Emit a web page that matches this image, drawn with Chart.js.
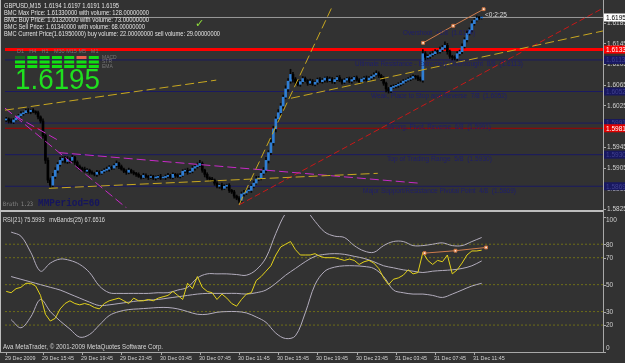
<!DOCTYPE html>
<html>
<head>
<meta charset="utf-8">
<script src="https://cdn.jsdelivr.net/npm/chart.js@4.4.0/dist/chart.umd.min.js"></script>
<style>
  body { margin: 0; background: #323232; width: 625px; height: 363px; overflow: hidden; position: relative; }
  canvas { position: absolute; left: 0; }
  #main { top: 0; z-index: 2; }
  #rsi { top: 210px; z-index: 1; }
</style>
</head>
<body>
<canvas id="rsi" width="625" height="153"></canvas>
<canvas id="main" width="625" height="215"></canvas>
<script>
// GBPUSD M15, 29 Dec 12:00 .. 31 Dec 12:30 (195 bars)
const closes = [
  1.5999,1.5995,1.5993,1.5997,1.6001,1.6005,1.6009,1.6011,1.6015,1.6013,1.6016,1.6013,1.6011,1.6003,1.5995,
  1.5967,1.5919,1.5881,1.5871,1.5888,1.5900,1.5911,1.5919,1.5923,1.5917,1.5921,1.5919,1.5925,1.5915,1.5907,
  1.5904,1.5902,1.5898,1.5900,1.5896,1.5894,1.5892,1.5896,1.5894,1.5898,1.5900,1.5902,1.5906,1.5904,1.5909,
  1.5913,1.5907,1.5902,1.5898,1.5896,1.5900,1.5896,1.5894,1.5892,1.5888,1.5886,1.5890,1.5888,1.5886,1.5888,
  1.5885,1.5886,1.5888,1.5885,1.5886,1.5888,1.5890,1.5886,1.5892,1.5890,1.5888,1.5890,1.5898,1.5900,1.5896,
  1.5898,1.5904,1.5907,1.5909,1.5913,1.5900,1.5892,1.5885,1.5883,1.5881,1.5875,1.5869,1.5871,1.5865,1.5869,
  1.5871,1.5861,1.5858,1.5850,1.5846,1.5842,1.5854,1.5856,1.5860,1.5861,1.5869,1.5875,1.5883,1.5885,1.5894,
  1.5900,1.5919,1.5934,1.5953,1.5980,1.5999,1.6011,1.6024,1.6041,1.6057,1.6072,1.6085,1.6076,1.6070,1.6066,
  1.6071,1.6077,1.6073,1.6068,1.6072,1.6066,1.6070,1.6075,1.6071,1.6074,1.6078,1.6073,1.6076,1.6071,1.6075,
  1.6079,1.6074,1.6070,1.6074,1.6077,1.6072,1.6075,1.6079,1.6074,1.6071,1.6076,1.6078,1.6074,1.6078,1.6081,
  1.6084,1.6087,1.6083,1.6078,1.6068,1.6057,1.6053,1.6060,1.6062,1.6064,1.6066,1.6068,1.6072,1.6074,1.6076,
  1.6078,1.6081,1.6080,1.6076,1.6074,1.6125,1.6118,1.6120,1.6123,1.6125,1.6129,1.6129,1.6133,1.6137,1.6141,
  1.6129,1.6120,1.6118,1.6116,1.6125,1.6129,1.6139,1.6152,1.6164,1.6171,1.6183,1.6190,1.6194,1.6194,1.6195
];
const firstOpen = 1.5997;
// wick lengths in pips
const wickUp = [
  3,2,4,3,2,3,4,2,3,4,2,3,2,3,2, 4,3,5,4,6,5,4,6,3,4,5,3,4,2,3, 3,2,4,3,2,3,2,4,3,2,3,4,3,2,3,
  5,2,3,2,3,4,2,3,2,3,2,4,3,2,3, 2,3,2,4,2,3,4,2,3,2,3,4,3,2,4, 3,4,3,5,6,3,2,3,2,3,2,3,2,4,3,
  2,3,2,3,2,3,4,5,3,4,3,4,5,3,4, 5,6,4,6,5,4,6,5,4,6,5,10,4,3,4, 3,4,3,2,4,3,2,3,4,3,2,3,4,3,2,
  3,4,2,3,2,3,4,2,3,3,2,3,4,3,3, 4,5,3,2,3,2,3,4,3,2,3,4,3,2,3, 4,3,2,3,4,8,4,3,4,5,4,3,5,4,7,
  4,3,2,3,4,3,5,4,5,4,5,3,4,3,2
];
const wickDn = [
  3,4,2,3,2,4,2,3,2,3,4,2,3,4,4, 5,6,5,4,3,4,5,3,4,3,4,5,3,4,3, 4,3,2,3,4,2,3,4,3,2,3,2,4,3,2,
  3,4,2,3,4,3,2,3,4,2,3,2,3,4,2, 3,4,2,3,2,4,3,2,3,4,2,3,2,3,4, 2,3,4,3,2,4,5,3,4,3,4,3,4,3,2,
  3,4,3,4,3,5,3,4,3,2,4,3,2,3,4, 3,4,5,4,5,6,4,5,4,3,5,4,6,5,3, 4,3,2,4,3,2,3,4,2,3,4,3,2,3,4,
  2,3,4,3,2,3,4,3,2,3,4,3,2,3,4, 3,2,4,5,4,6,4,3,2,3,4,3,2,3,2, 3,2,4,3,2,4,5,3,4,3,2,4,3,4,3,
  5,4,5,3,4,3,4,3,4,3,4,3,2,3,2
];

const priceTicks = [1.6185, 1.6145, 1.6105, 1.6065, 1.6025, 1.5985, 1.5945, 1.5905, 1.5865, 1.5825];
const mmLevels = [1.6113, 1.6052, 1.5991, 1.5930, 1.5869];
const mmNames = [
  'Ultimate Resistance - Extremely Overbought  8/8  (1.6113)',
  'Weak, Place to Stop and Reverse  7/8  (1.6052)',
  'Strong, Pivot, Reverse  6/8  (1.5991)',
  'Top of Trading Range  5/8  (1.5930)',
  'Major Support/Resistance Pivotal Point  4/8  (1.5869)'
];
const overshootLevel = 1.6174;
const overshootName = 'Overshoot  +1/8  (1.6174)';
const bidPrice = 1.6195;
const bmcMax = 1.6133;
const lowRed = 1.5981;

// trend lines: [bar1, price1, bar2, price2]
const yellowLines = [[-0.5, 1.6016, 85.7, 1.6074], [95, 1.5833, 133.3, 1.6219], [17.4, 1.5865, 151.6, 1.5894], [116.2, 1.6039, 243.5, 1.6169]];
const magentaLines = [[-0.5, 1.6020, 49.1, 1.5827], [3.6, 1.6005, 21.5, 1.5957], [21.5, 1.5934, 168.3, 1.5875]];
const redLines = [[95, 1.5833, 243.5, 1.6213]];
const divBars = [170.1, 182.4, 194.8];
const divPrices = [1.6146, 1.6179, 1.6211];

const infoLines = [
  'GBPUSD,M15  1.6194 1.6197 1.6191 1.6195',
  'BMC Max Price: 1.61330000 with volume: 128.00000000',
  'BMC Buy Price: 1.61320000 with volume: 73.00000000',
  'BMC Sell Price: 1.61340000 with volume: 68.00000000',
  'BMC Current Price(1.61950000) buy volume: 22.00000000 sell volume: 29.00000000'
];
const tfNames = ['D1', 'H4', 'H1', 'M30', 'M15', 'M5', 'M1'];
const sigNames = ['MACD', 'STR', 'EMA'];
const sigRows = [
  ['dark', 'up', 'up', 'up', 'up', 'down', 'up'],
  ['up', 'up', 'up', 'up', 'up', 'up', 'up'],
  ['up', 'up', 'up', 'up', 'up', 'up', 'up']
];

// RSI(21) every 2 bars, bands every 4 bars (from bar 2)
const rsi = [45,44,47,48,51,51,49,42,28,23,25,32,36,38,36,35,36,35,33,32,36,38,39,40,38,36,40,38,38,39,38,40,41,42,45,42,39,51,47,56,48,45,44,39,43,40,36,34,39,43,44,53,56,60,64,72,78,80,82,76,72,72,72,73,71,70,70,70,69,68,69,68,65,67,68,66,62,55,50,54,55,57,61,58,59,74,68,65,68,67,72,58,61,66,72,75,75,75.6];
const bandUp = [89,86,74,60,66,69,68,65,59,49,44,43.5,43.5,43.5,43.5,44,44,46,48,55,58,58,58,57.5,57,61,70,88,103,110,106,97,89,86,85,79,75,74,79,82,82,79,79,80,81,79,79,82,85];
const bandMid = [56,54,52,50,48,46,43,40,37,34.5,35,36,37,38,38.5,39,40,41,42,43,43.5,43.5,43.5,43.5,43,44,46,51,57,62,67,71,72.5,73,72.5,71,69.5,67,64,62.5,61,60,59,60,60.5,61,62,64,67.6];
const bandLow = [24,18,26,39,30,23,17,11,13,20,27,30,31.5,32,32.5,33,33,32,30,28,28,29.5,30,30,29,26,22,14,10,12,29,50,60,63,64,64,63.5,62,56,46,44,43,43,42,40.5,43,46,49,51];
const rsiLevels = [80, 70, 50, 30, 20];
const rsiTicks = [100, 80, 70, 50, 30, 20, 0];
const rsiDivBars = [170.7, 183.3, 195.8];
const rsiDivValues = [73.4, 75.2, 77.6];

const timeLabels = ['29 Dec 2009', '29 Dec 15:45', '29 Dec 19:45', '29 Dec 23:45', '30 Dec 03:45', '30 Dec 07:45', '30 Dec 11:45', '30 Dec 15:45', '30 Dec 19:45', '30 Dec 23:45', '31 Dec 03:45', '31 Dec 07:45', '31 Dec 11:45'];
const timeBars = [0, 15, 31, 47, 63, 79, 95, 111, 127, 143, 159, 175, 191];

const pip = 0.0001;
const X0 = -0.5, X1 = 243.5;
const opens = closes.map((c, i) => i ? closes[i - 1] : firstOpen);
const highs = closes.map((c, i) => Math.max(opens[i], c) + wickUp[i] * pip);
const lows = closes.map((c, i) => Math.min(opens[i], c) - wickDn[i] * pip);
const isUp = i => closes[i] > opens[i];

const FONT = '"Liberation Sans", Arial, sans-serif';
function txt(c, s, x, y, size, color, o = {}) {
  c.save();
  c.font = (o.weight || '') + ' ' + size + 'px ' + (o.family || FONT);
  c.fillStyle = color;
  c.textBaseline = 'middle';
  c.textAlign = 'left';
  const w = c.measureText(s).width;
  const sx = o.w ? o.w / w : (o.sx || 1);
  c.translate(x, y);
  c.scale(sx, 1);
  c.fillText(s, 0, 0);
  c.restore();
}

function hline(v, color, width, order, dash) {
  return { type: 'line', data: [{ x: X0, y: v }, { x: X1, y: v }], borderColor: color, borderWidth: width,
    borderDash: dash || [], pointRadius: 0, order };
}
function seg(s, color, dash, order) {
  return { type: 'line', data: [{ x: s[0], y: s[1] }, { x: s[2], y: s[3] }], borderColor: color, borderWidth: 1,
    borderDash: dash, pointRadius: 0, order };
}

const axisBox = (c, v, y, fill, fg) => {
  c.fillStyle = fill;
  c.fillRect(604, y - 4, 21, 8);
  txt(c, v.toFixed(4), 606, y + 0.5, 6.5, fg);
};

const mainDecor = {
  id: 'mainDecor',
  afterDatasetsDraw(chart) {
    const c = chart.ctx, ys = chart.scales.y;
    const py = v => ys.getPixelForValue(v);

    // murrey math labels
    const mmX = [355, 371, 387, 387, 363];
    const mmW = [168, 136, 104, 105, 153];
    txt(c, overshootName, 403, py(overshootLevel) + 5, 6.5, '#1e1e6c', { w: 72 });
    mmLevels.forEach((v, k) => txt(c, mmNames[k], mmX[k], py(v) + 4.5, 6.5, '#1e1e6c', { w: mmW[k] }));

    // info text
    const infoW = [115, 145, 145, 141, 216];
    const infoY = [6, 12.8, 19.8, 26.8, 34];
    infoLines.forEach((s, k) => txt(c, s, 4, infoY[k], 6.8, '#e2e2e2', { w: infoW[k] }));
    txt(c, '\u2713', 195, 24, 11, '#8fe03a', { family: '"DejaVu Sans", sans-serif' });

    // signal grid
    tfNames.forEach((s, k) => txt(c, s, 17 + k * 12.3, 51, 5.5, '#767676'));
    sigRows.forEach((row, r) => row.forEach((st, k) => {
      c.fillStyle = st === 'dark' ? '#17701a' : st === 'down' ? '#e8604c' : '#12e012';
      c.fillRect(15 + k * 12.3, 56 + r * 4.5, 10, 3);
    }));
    sigNames.forEach((s, k) => txt(c, s, 102, 57.5 + k * 4.5, 5, '#767676'));
    txt(c, closes[closes.length - 1].toFixed(4), 15, 81, 29, '#1fe01f', { w: 85 });

    txt(c, 'Brath 1.23', 3, 204, 6, '#8a8a8a', { w: 30, family: '"DejaVu Sans Mono", monospace' });
    txt(c, 'MMPeriod=60', 38, 203, 11, '#15155e', { w: 62, weight: 'bold', family: '"Liberation Mono", monospace' });
    txt(c, '<0:2:25', 485, 15.5, 6.5, '#dcdcdc', { w: 22 });

    // frame
    c.fillStyle = '#bdbdbd';
    c.fillRect(0, 0, 1, 352);
    c.fillRect(0, 210, 603, 2);
    c.fillStyle = '#a8a8a8';
    c.fillRect(603, 0, 1, 352);

    // price axis
    priceTicks.forEach(v => {
      const y = py(v);
      c.fillStyle = '#a8a8a8';
      c.fillRect(603, Math.round(y), 3, 1);
      txt(c, v.toFixed(4), 607, y + 0.5, 6.5, '#d0d0d0');
    });
    mmLevels.forEach(v => axisBox(c, v, py(v), '#181860', '#40408e'));
    axisBox(c, lowRed, py(lowRed), '#e00000', '#ffffff');
    axisBox(c, bmcMax, py(bmcMax), '#ff0000', '#ffffff');
    axisBox(c, bidPrice, py(bidPrice), '#ffffff', '#000000');
  }
};

new Chart(document.getElementById('main'), {
  type: 'bar',
  data: {
    datasets: [
      ...mmLevels.map(v => hline(v, '#1a1a62', 1, 20)),
      hline(lowRed, '#a00000', 1, 20),
      hline(bidPrice, '#9a9a9a', 1, 20),
      hline(bmcMax, '#ff0000', 3, 19),
      {
        type: 'bar', order: 10, grouped: false, barThickness: 1, borderWidth: 0,
        data: closes.map((c, i) => ({ x: i, y: [lows[i], highs[i]] })),
        backgroundColor: '#050505'
      },
      {
        type: 'bar', order: 9, grouped: false, barThickness: 2, borderWidth: 0, minBarLength: 1,
        data: closes.map((c, i) => ({ x: i, y: [opens[i], c] })),
        backgroundColor: ctx => isUp(ctx.dataIndex) ? '#2f7fd6' : '#000000'
      },
      ...yellowLines.map(s => seg(s, '#c9a820', [9, 4], 3)),
      ...magentaLines.map(s => seg(s, '#c82ac8', [9, 4], 3)),
      ...redLines.map(s => seg(s, '#c81818', [6, 3], 3)),
      {
        type: 'line', order: 1, data: divBars.map((b, k) => ({ x: b, y: divPrices[k] })),
        borderColor: '#cf7c4c', borderWidth: 1, pointStyle: 'rect', pointRadius: 2,
        pointBackgroundColor: '#fbe6d4', pointBorderColor: '#d0703a', pointBorderWidth: 1
      }
    ]
  },
  options: {
    responsive: false, animation: false, devicePixelRatio: 1,
    layout: { padding: { left: 3, top: 3, right: 0, bottom: 7 } },
    plugins: { legend: { display: false }, tooltip: { enabled: false } },
    scales: {
      x: { type: 'linear', min: X0, max: X1, offset: false, display: false },
      y: {
        position: 'right', min: 1.58270, max: 1.62191,
        grid: { display: false }, border: { display: false }, ticks: { display: false },
        afterFit(s) { s.width = 22; }
      }
    }
  },
  plugins: [mainDecor]
});

const rsiDecor = {
  id: 'rsiDecor',
  afterDatasetsDraw(chart) {
    const c = chart.ctx, ys = chart.scales.y, xs = chart.scales.x, a = chart.chartArea;
    txt(c, 'RSI(21) 75.5993   mvBands(25) 67.6516', 3, 10, 6.5, '#d8d8d8', { w: 102 });
    txt(c, 'Ava MetaTrader, \u00a9 2001-2009 MetaQuotes Software Corp.', 3, 137, 6.5, '#d8d8d8', { w: 160 });

    c.fillStyle = '#a8a8a8';
    c.fillRect(603, 0, 1, a.bottom + 1);
    c.fillRect(0, a.bottom, 604, 1);
    c.fillStyle = '#bdbdbd';
    c.fillRect(0, 0, 1, a.bottom);

    rsiTicks.forEach(v => {
      const y = Math.min(Math.max(ys.getPixelForValue(v), a.top + 5), a.bottom - 4);
      c.fillStyle = '#a8a8a8';
      c.fillRect(603, Math.round(ys.getPixelForValue(v)), 3, 1);
      txt(c, String(v), 606, y + 0.5, 6.5, '#d0d0d0');
    });

    timeBars.forEach((b, k) => {
      const x = Math.round(xs.getPixelForValue(b));
      c.fillStyle = '#a8a8a8';
      c.fillRect(x, a.bottom, 1, 3);
      txt(c, timeLabels[k], x - 1, a.bottom + 6.5, 6, '#d0d0d0', { sx: 0.9 });
    });
  }
};

const bandData = arr => arr.map((v, k) => ({ x: 2 + k * 4, y: v }));
const bandStyle = { type: 'line', borderColor: '#b3adbd', borderWidth: 1, pointRadius: 0, tension: 0.35, order: 5 };

new Chart(document.getElementById('rsi'), {
  type: 'line',
  data: {
    datasets: [
      ...rsiLevels.map(v => hline(v, '#6e6e18', 1, 20, [2, 2])),
      { ...bandStyle, data: bandData(bandUp) },
      { ...bandStyle, data: bandData(bandMid) },
      { ...bandStyle, data: bandData(bandLow) },
      { type: 'line', order: 2, data: rsi.map((v, k) => ({ x: k * 2, y: v })), borderColor: '#e3d21a', borderWidth: 1, pointRadius: 0, tension: 0 },
      {
        type: 'line', order: 1, data: rsiDivBars.map((b, k) => ({ x: b, y: rsiDivValues[k] })),
        borderColor: '#cf7c4c', borderWidth: 1, pointStyle: 'rect', pointRadius: 2,
        pointBackgroundColor: '#fbe6d4', pointBorderColor: '#d0703a', pointBorderWidth: 1
      }
    ]
  },
  options: {
    responsive: false, animation: false, devicePixelRatio: 1,
    layout: { padding: { left: 3, top: 2, right: 0, bottom: 11 } },
    plugins: { legend: { display: false }, tooltip: { enabled: false } },
    scales: {
      x: { type: 'linear', min: X0, max: X1, offset: false, display: false },
      y: {
        position: 'right', min: 0, max: 101.7,
        grid: { display: false }, border: { display: false }, ticks: { display: false },
        afterFit(s) { s.width = 22; }
      }
    }
  },
  plugins: [rsiDecor]
});
</script>
</body>
</html>
